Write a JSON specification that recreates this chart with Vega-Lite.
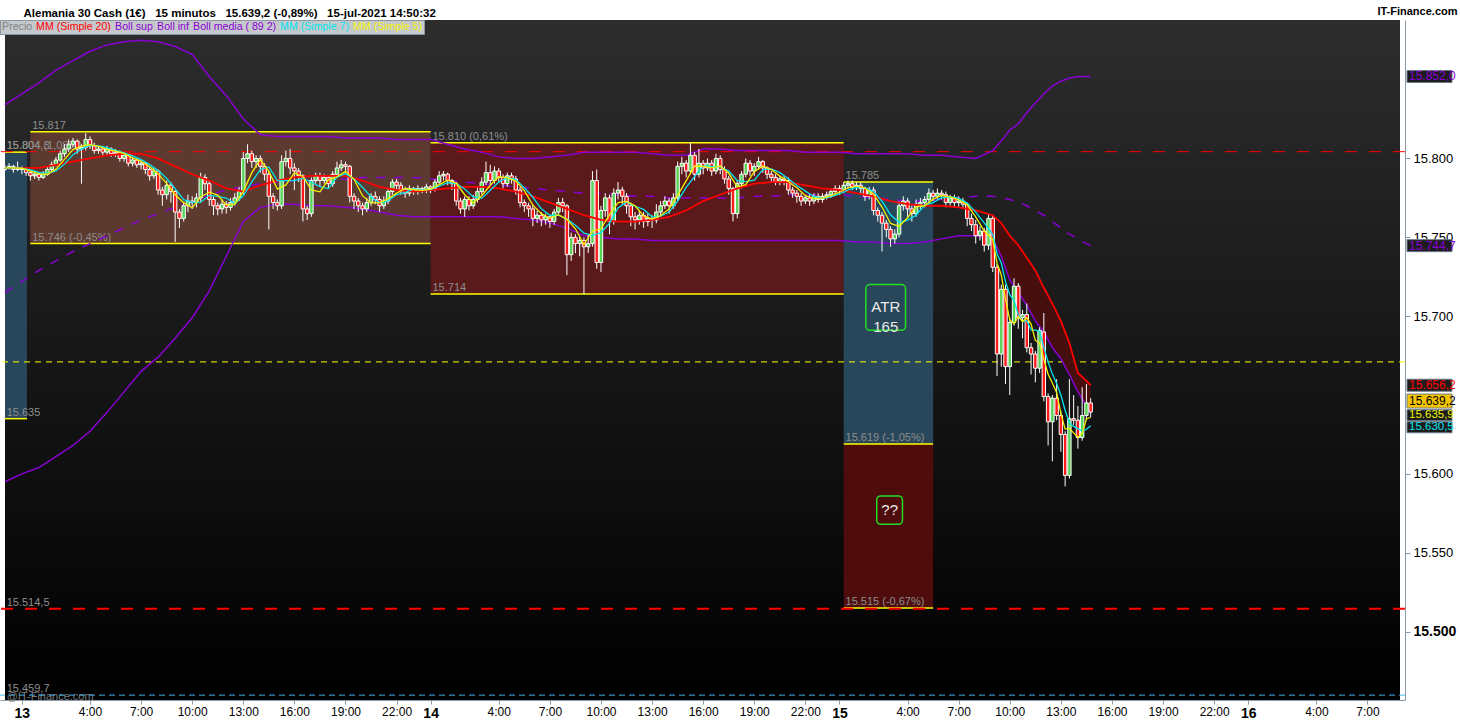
{
  "$schema": "https://vega.github.io/schema/vega-lite/v6.json",
  "width": 1405,
  "height": 680,
  "autosize": {"type": "none"},
  "padding": {"left": 0, "top": 20, "right": 55, "bottom": 20},
  "background": "#ffffff",
  "datasets": {
    "bg": [{"t0": -0.99, "t1": 80.91, "p0": 15456.6, "p1": 15887.8}],
    "boxes": [
      {"zona": "previo", "t0": -0.99, "t1": 0.3, "p0": 15635, "p1": 15804},
      {"zona": "rango13", "t0": 0.5, "t1": 24, "p0": 15746, "p1": 15817},
      {"zona": "rango14", "t0": 24, "t1": 48.25, "p0": 15714, "p1": 15810},
      {"zona": "atr", "t0": 48.25, "t1": 53.5, "p0": 15619, "p1": 15785},
      {"zona": "objetivo", "t0": 48.25, "t1": 53.5, "p0": 15515, "p1": 15619}
    ],
    "edges": [
      {"t0": -0.99, "t1": 0.3, "p": 15804}, {"t0": -0.99, "t1": 0.3, "p": 15635},
      {"t0": 0.5, "t1": 24, "p": 15817}, {"t0": 0.5, "t1": 24, "p": 15746},
      {"t0": 24, "t1": 48.25, "p": 15810}, {"t0": 24, "t1": 48.25, "p": 15714},
      {"t0": 48.25, "t1": 53.5, "p": 15785}, {"t0": 48.25, "t1": 53.5, "p": 15619},
      {"t0": 48.25, "t1": 53.5, "p": 15515}
    ],
    "labels": [
      {"t": 0.55, "p": 15817, "txt": "15.817"},
      {"t": 0.55, "p": 15746, "txt": "15.746 (-0,45%)"},
      {"t": -0.95, "p": 15804, "txt": "15.804 (1,08%)"},
      {"t": -0.95, "p": 15804.3, "txt": "15.804,3"},
      {"t": -0.95, "p": 15635, "txt": "15.635"},
      {"t": 24.05, "p": 15810, "txt": "15.810 (0,61%)"},
      {"t": 24.05, "p": 15714, "txt": "15.714"},
      {"t": 48.3, "p": 15785, "txt": "15.785"},
      {"t": 48.3, "p": 15619, "txt": "15.619 (-1,05%)"},
      {"t": 48.3, "p": 15515, "txt": "15.515 (-0,67%)"},
      {"t": -0.95, "p": 15514.5, "txt": "15.514,5"},
      {"t": -0.95, "p": 15459.7, "txt": "15.459,7"}
    ],
    "candles": [
      {"t":-1,"o":15793,"h":15796,"l":15792,"c":15794},{"t":-0.75,"o":15794,"h":15797,"l":15793,"c":15795},{"t":-0.5,"o":15795,"h":15796,"l":15791,"c":15793},{"t":-0.25,"o":15793,"h":15798,"l":15792,"c":15794},
      {"t":0,"o":15794,"h":15795,"l":15790,"c":15793},{"t":0.25,"o":15793,"h":15794,"l":15789,"c":15791},{"t":0.5,"o":15791,"h":15792,"l":15786,"c":15789},{"t":0.75,"o":15789,"h":15792,"l":15787,"c":15790},
      {"t":1,"o":15790,"h":15791,"l":15786,"c":15788},{"t":1.25,"o":15788,"h":15792,"l":15787,"c":15790},{"t":1.5,"o":15790,"h":15795,"l":15789,"c":15793},{"t":1.75,"o":15793,"h":15798,"l":15792,"c":15796},
      {"t":2,"o":15796,"h":15801,"l":15795,"c":15799},{"t":2.25,"o":15799,"h":15805,"l":15798,"c":15803},{"t":2.5,"o":15803,"h":15809,"l":15801,"c":15806},{"t":2.75,"o":15806,"h":15812,"l":15804,"c":15809},
      {"t":3,"o":15809,"h":15813,"l":15807,"c":15811},{"t":3.25,"o":15811,"h":15812,"l":15803,"c":15806},{"t":3.5,"o":15806,"h":15809,"l":15784,"c":15807},{"t":3.75,"o":15807,"h":15816,"l":15805,"c":15812},
      {"t":4,"o":15812,"h":15814,"l":15806,"c":15808},{"t":4.25,"o":15808,"h":15810,"l":15803,"c":15805},{"t":4.5,"o":15805,"h":15808,"l":15803,"c":15806},{"t":4.75,"o":15806,"h":15808,"l":15802,"c":15804},
      {"t":5,"o":15804,"h":15808,"l":15802,"c":15806},{"t":5.25,"o":15806,"h":15807,"l":15801,"c":15803},{"t":5.5,"o":15803,"h":15806,"l":15801,"c":15804},{"t":5.75,"o":15804,"h":15805,"l":15798,"c":15800},
      {"t":6,"o":15800,"h":15804,"l":15798,"c":15802},{"t":6.25,"o":15802,"h":15803,"l":15795,"c":15797},{"t":6.5,"o":15797,"h":15801,"l":15795,"c":15799},{"t":6.75,"o":15799,"h":15800,"l":15794,"c":15796},
      {"t":7,"o":15796,"h":15799,"l":15793,"c":15797},{"t":7.25,"o":15797,"h":15798,"l":15790,"c":15793},{"t":7.5,"o":15793,"h":15795,"l":15786,"c":15789},{"t":7.75,"o":15789,"h":15794,"l":15787,"c":15792},
      {"t":8,"o":15792,"h":15793,"l":15777,"c":15780},{"t":8.25,"o":15780,"h":15782,"l":15770,"c":15777},{"t":8.5,"o":15777,"h":15786,"l":15774,"c":15783},{"t":8.75,"o":15783,"h":15785,"l":15772,"c":15779},
      {"t":9,"o":15779,"h":15780,"l":15747,"c":15766},{"t":9.25,"o":15766,"h":15768,"l":15756,"c":15762},{"t":9.5,"o":15762,"h":15772,"l":15760,"c":15770},{"t":9.75,"o":15770,"h":15777,"l":15766,"c":15773},
      {"t":10,"o":15773,"h":15776,"l":15768,"c":15772},{"t":10.25,"o":15772,"h":15778,"l":15769,"c":15775},{"t":10.5,"o":15775,"h":15791,"l":15772,"c":15788},{"t":10.75,"o":15788,"h":15790,"l":15780,"c":15784},
      {"t":11,"o":15784,"h":15786,"l":15770,"c":15774},{"t":11.25,"o":15774,"h":15776,"l":15764,"c":15770},{"t":11.5,"o":15770,"h":15772,"l":15764,"c":15768},{"t":11.75,"o":15768,"h":15774,"l":15765,"c":15771},
      {"t":12,"o":15771,"h":15773,"l":15765,"c":15769},{"t":12.25,"o":15769,"h":15775,"l":15767,"c":15772},{"t":12.5,"o":15772,"h":15778,"l":15770,"c":15775},{"t":12.75,"o":15775,"h":15782,"l":15773,"c":15779},
      {"t":13,"o":15779,"h":15804,"l":15777,"c":15800},{"t":13.25,"o":15800,"h":15809,"l":15797,"c":15803},{"t":13.5,"o":15803,"h":15805,"l":15794,"c":15798},{"t":13.75,"o":15798,"h":15802,"l":15794,"c":15800},
      {"t":14,"o":15800,"h":15802,"l":15791,"c":15795},{"t":14.25,"o":15795,"h":15797,"l":15786,"c":15790},{"t":14.5,"o":15790,"h":15792,"l":15755,"c":15776},{"t":14.75,"o":15776,"h":15778,"l":15768,"c":15772},
      {"t":15,"o":15772,"h":15774,"l":15767,"c":15770},{"t":15.25,"o":15770,"h":15802,"l":15768,"c":15798},{"t":15.5,"o":15798,"h":15805,"l":15795,"c":15800},{"t":15.75,"o":15800,"h":15806,"l":15790,"c":15794},
      {"t":16,"o":15794,"h":15797,"l":15780,"c":15792},{"t":16.25,"o":15792,"h":15794,"l":15785,"c":15789},{"t":16.5,"o":15789,"h":15790,"l":15760,"c":15768},{"t":16.75,"o":15768,"h":15770,"l":15761,"c":15765},
      {"t":17,"o":15765,"h":15788,"l":15763,"c":15786},{"t":17.25,"o":15786,"h":15791,"l":15784,"c":15789},{"t":17.5,"o":15789,"h":15791,"l":15782,"c":15786},{"t":17.75,"o":15786,"h":15790,"l":15784,"c":15788},
      {"t":18,"o":15788,"h":15789,"l":15781,"c":15784},{"t":18.25,"o":15784,"h":15792,"l":15782,"c":15790},{"t":18.5,"o":15790,"h":15798,"l":15788,"c":15794},{"t":18.75,"o":15794,"h":15799,"l":15792,"c":15796},
      {"t":19,"o":15796,"h":15798,"l":15791,"c":15795},{"t":19.25,"o":15795,"h":15796,"l":15772,"c":15776},{"t":19.5,"o":15776,"h":15778,"l":15768,"c":15773},{"t":19.75,"o":15773,"h":15775,"l":15766,"c":15770},
      {"t":20,"o":15770,"h":15772,"l":15764,"c":15768},{"t":20.25,"o":15768,"h":15775,"l":15766,"c":15772},{"t":20.5,"o":15772,"h":15778,"l":15770,"c":15776},{"t":20.75,"o":15776,"h":15779,"l":15771,"c":15774},
      {"t":21,"o":15774,"h":15776,"l":15766,"c":15770},{"t":21.25,"o":15770,"h":15776,"l":15768,"c":15773},{"t":21.5,"o":15773,"h":15781,"l":15771,"c":15779},{"t":21.75,"o":15779,"h":15787,"l":15777,"c":15785},
      {"t":22,"o":15785,"h":15787,"l":15780,"c":15783},{"t":22.25,"o":15783,"h":15785,"l":15777,"c":15780},{"t":22.5,"o":15780,"h":15782,"l":15775,"c":15778},{"t":22.75,"o":15778,"h":15783,"l":15776,"c":15781},
      {"t":23,"o":15781,"h":15782,"l":15777,"c":15779},{"t":23.25,"o":15779,"h":15783,"l":15777,"c":15781},{"t":23.5,"o":15781,"h":15782,"l":15778,"c":15780},{"t":23.75,"o":15780,"h":15784,"l":15778,"c":15782},
      {"t":24,"o":15782,"h":15783,"l":15778,"c":15781},{"t":24.25,"o":15781,"h":15787,"l":15779,"c":15785},{"t":24.5,"o":15785,"h":15792,"l":15783,"c":15789},{"t":24.75,"o":15789,"h":15792,"l":15786,"c":15790},
      {"t":25,"o":15790,"h":15791,"l":15783,"c":15786},{"t":25.25,"o":15786,"h":15787,"l":15780,"c":15784},{"t":25.5,"o":15784,"h":15785,"l":15770,"c":15773},{"t":25.75,"o":15773,"h":15775,"l":15765,"c":15768},
      {"t":26,"o":15768,"h":15776,"l":15763,"c":15774},{"t":26.25,"o":15774,"h":15776,"l":15767,"c":15770},{"t":26.5,"o":15770,"h":15777,"l":15768,"c":15774},{"t":26.75,"o":15774,"h":15782,"l":15772,"c":15779},
      {"t":27,"o":15779,"h":15788,"l":15777,"c":15785},{"t":27.25,"o":15785,"h":15798,"l":15783,"c":15791},{"t":27.5,"o":15791,"h":15796,"l":15783,"c":15786},{"t":27.75,"o":15786,"h":15795,"l":15784,"c":15792},
      {"t":28,"o":15792,"h":15794,"l":15785,"c":15788},{"t":28.25,"o":15788,"h":15790,"l":15781,"c":15784},{"t":28.5,"o":15784,"h":15791,"l":15782,"c":15789},{"t":28.75,"o":15789,"h":15791,"l":15784,"c":15787},
      {"t":29,"o":15787,"h":15789,"l":15777,"c":15780},{"t":29.25,"o":15780,"h":15782,"l":15769,"c":15772},{"t":29.5,"o":15772,"h":15774,"l":15766,"c":15770},{"t":29.75,"o":15770,"h":15772,"l":15763,"c":15768},
      {"t":30,"o":15768,"h":15771,"l":15757,"c":15762},{"t":30.25,"o":15762,"h":15767,"l":15759,"c":15764},{"t":30.5,"o":15764,"h":15766,"l":15757,"c":15761},{"t":30.75,"o":15761,"h":15765,"l":15758,"c":15763},
      {"t":31,"o":15763,"h":15764,"l":15756,"c":15760},{"t":31.25,"o":15760,"h":15768,"l":15758,"c":15766},{"t":31.5,"o":15766,"h":15775,"l":15764,"c":15772},{"t":31.75,"o":15772,"h":15775,"l":15766,"c":15770},
      {"t":32,"o":15770,"h":15771,"l":15726,"c":15739},{"t":32.25,"o":15739,"h":15753,"l":15735,"c":15750},{"t":32.5,"o":15750,"h":15752,"l":15740,"c":15746},{"t":32.75,"o":15746,"h":15751,"l":15738,"c":15748},
      {"t":33,"o":15748,"h":15750,"l":15714,"c":15744},{"t":33.25,"o":15744,"h":15752,"l":15740,"c":15746},{"t":33.5,"o":15746,"h":15792,"l":15744,"c":15786},{"t":33.75,"o":15786,"h":15793,"l":15730,"c":15734},
      {"t":34,"o":15734,"h":15770,"l":15728,"c":15767},{"t":34.25,"o":15767,"h":15778,"l":15763,"c":15775},{"t":34.5,"o":15775,"h":15777,"l":15752,"c":15760},{"t":34.75,"o":15760,"h":15781,"l":15758,"c":15778},
      {"t":35,"o":15778,"h":15785,"l":15774,"c":15780},{"t":35.25,"o":15780,"h":15782,"l":15771,"c":15776},{"t":35.5,"o":15776,"h":15778,"l":15765,"c":15770},{"t":35.75,"o":15770,"h":15772,"l":15757,"c":15763},
      {"t":36,"o":15763,"h":15766,"l":15755,"c":15761},{"t":36.25,"o":15761,"h":15767,"l":15758,"c":15764},{"t":36.5,"o":15764,"h":15766,"l":15756,"c":15760},{"t":36.75,"o":15760,"h":15765,"l":15757,"c":15762},
      {"t":37,"o":15762,"h":15764,"l":15756,"c":15761},{"t":37.25,"o":15761,"h":15771,"l":15759,"c":15766},{"t":37.5,"o":15766,"h":15773,"l":15763,"c":15770},{"t":37.75,"o":15770,"h":15776,"l":15768,"c":15773},
      {"t":38,"o":15773,"h":15775,"l":15765,"c":15770},{"t":38.25,"o":15770,"h":15778,"l":15768,"c":15775},{"t":38.5,"o":15775,"h":15798,"l":15773,"c":15795},{"t":38.75,"o":15795,"h":15801,"l":15790,"c":15797},
      {"t":39,"o":15797,"h":15799,"l":15788,"c":15792},{"t":39.25,"o":15792,"h":15810,"l":15790,"c":15802},{"t":39.5,"o":15802,"h":15804,"l":15786,"c":15790},{"t":39.75,"o":15790,"h":15806,"l":15788,"c":15797},
      {"t":40,"o":15797,"h":15799,"l":15790,"c":15794},{"t":40.25,"o":15794,"h":15800,"l":15792,"c":15797},{"t":40.5,"o":15797,"h":15799,"l":15789,"c":15792},{"t":40.75,"o":15792,"h":15803,"l":15790,"c":15800},
      {"t":41,"o":15800,"h":15802,"l":15790,"c":15793},{"t":41.25,"o":15793,"h":15795,"l":15784,"c":15787},{"t":41.5,"o":15787,"h":15789,"l":15777,"c":15781},{"t":41.75,"o":15781,"h":15782,"l":15760,"c":15765},
      {"t":42,"o":15765,"h":15786,"l":15762,"c":15784},{"t":42.25,"o":15784,"h":15792,"l":15781,"c":15790},{"t":42.5,"o":15790,"h":15800,"l":15788,"c":15797},{"t":42.75,"o":15797,"h":15799,"l":15789,"c":15792},
      {"t":43,"o":15792,"h":15797,"l":15789,"c":15795},{"t":43.25,"o":15795,"h":15801,"l":15793,"c":15798},{"t":43.5,"o":15798,"h":15799,"l":15791,"c":15794},{"t":43.75,"o":15794,"h":15795,"l":15787,"c":15790},
      {"t":44,"o":15790,"h":15792,"l":15785,"c":15788},{"t":44.25,"o":15788,"h":15790,"l":15783,"c":15785},{"t":44.5,"o":15785,"h":15789,"l":15783,"c":15787},{"t":44.75,"o":15787,"h":15789,"l":15783,"c":15786},
      {"t":45,"o":15786,"h":15788,"l":15777,"c":15780},{"t":45.25,"o":15780,"h":15782,"l":15775,"c":15778},{"t":45.5,"o":15778,"h":15780,"l":15772,"c":15776},{"t":45.75,"o":15776,"h":15778,"l":15770,"c":15773},
      {"t":46,"o":15773,"h":15777,"l":15771,"c":15775},{"t":46.25,"o":15775,"h":15777,"l":15770,"c":15773},{"t":46.5,"o":15773,"h":15778,"l":15771,"c":15776},{"t":46.75,"o":15776,"h":15778,"l":15772,"c":15774},
      {"t":47,"o":15774,"h":15778,"l":15772,"c":15776},{"t":47.25,"o":15776,"h":15779,"l":15774,"c":15777},{"t":47.5,"o":15777,"h":15781,"l":15775,"c":15779},{"t":47.75,"o":15779,"h":15783,"l":15777,"c":15781},
      {"t":48,"o":15781,"h":15783,"l":15777,"c":15780},{"t":48.25,"o":15780,"h":15785,"l":15778,"c":15783},{"t":48.5,"o":15783,"h":15786,"l":15781,"c":15784},{"t":48.75,"o":15784,"h":15786,"l":15780,"c":15782},
      {"t":49,"o":15782,"h":15785,"l":15780,"c":15783},{"t":49.25,"o":15783,"h":15785,"l":15778,"c":15781},{"t":49.5,"o":15781,"h":15782,"l":15773,"c":15776},{"t":49.75,"o":15776,"h":15782,"l":15774,"c":15780},
      {"t":50,"o":15780,"h":15782,"l":15764,"c":15767},{"t":50.25,"o":15767,"h":15769,"l":15760,"c":15764},{"t":50.5,"o":15764,"h":15766,"l":15741,"c":15759},{"t":50.75,"o":15759,"h":15761,"l":15750,"c":15755},
      {"t":51,"o":15755,"h":15757,"l":15744,"c":15749},{"t":51.25,"o":15749,"h":15755,"l":15746,"c":15752},{"t":51.5,"o":15752,"h":15773,"l":15750,"c":15770},{"t":51.75,"o":15770,"h":15776,"l":15767,"c":15773},
      {"t":52,"o":15773,"h":15775,"l":15763,"c":15768},{"t":52.25,"o":15768,"h":15770,"l":15760,"c":15765},{"t":52.5,"o":15765,"h":15774,"l":15763,"c":15771},{"t":52.75,"o":15771,"h":15775,"l":15768,"c":15772},
      {"t":53,"o":15772,"h":15776,"l":15769,"c":15774},{"t":53.25,"o":15774,"h":15781,"l":15772,"c":15778},{"t":53.5,"o":15778,"h":15780,"l":15773,"c":15776},{"t":53.75,"o":15776,"h":15781,"l":15774,"c":15778},
      {"t":54,"o":15778,"h":15780,"l":15774,"c":15777},{"t":54.25,"o":15777,"h":15779,"l":15769,"c":15772},{"t":54.5,"o":15772,"h":15777,"l":15770,"c":15775},{"t":54.75,"o":15775,"h":15777,"l":15769,"c":15772},
      {"t":55,"o":15772,"h":15776,"l":15769,"c":15773},{"t":55.25,"o":15773,"h":15775,"l":15768,"c":15771},{"t":55.5,"o":15771,"h":15772,"l":15757,"c":15762},{"t":55.75,"o":15762,"h":15765,"l":15754,"c":15758},
      {"t":56,"o":15758,"h":15761,"l":15746,"c":15751},{"t":56.25,"o":15751,"h":15757,"l":15748,"c":15754},{"t":56.5,"o":15754,"h":15756,"l":15741,"c":15745},{"t":56.75,"o":15745,"h":15765,"l":15742,"c":15762},
      {"t":57,"o":15762,"h":15764,"l":15728,"c":15731},{"t":57.25,"o":15731,"h":15733,"l":15662,"c":15676},{"t":57.5,"o":15676,"h":15720,"l":15668,"c":15717},{"t":57.75,"o":15717,"h":15720,"l":15657,"c":15668},
      {"t":58,"o":15668,"h":15699,"l":15650,"c":15696},{"t":58.25,"o":15696,"h":15724,"l":15694,"c":15719},{"t":58.5,"o":15719,"h":15721,"l":15692,"c":15699},{"t":58.75,"o":15699,"h":15704,"l":15686,"c":15701},
      {"t":59,"o":15701,"h":15708,"l":15677,"c":15680},{"t":59.25,"o":15680,"h":15683,"l":15663,"c":15676},{"t":59.5,"o":15676,"h":15678,"l":15658,"c":15667},{"t":59.75,"o":15667,"h":15693,"l":15664,"c":15691},
      {"t":60,"o":15690,"h":15702,"l":15646,"c":15649},{"t":60.25,"o":15649,"h":15651,"l":15618,"c":15633},{"t":60.5,"o":15633,"h":15650,"l":15608,"c":15648},{"t":60.75,"o":15648,"h":15660,"l":15634,"c":15637},
      {"t":61,"o":15637,"h":15640,"l":15614,"c":15625},{"t":61.25,"o":15625,"h":15627,"l":15592,"c":15599},{"t":61.5,"o":15599,"h":15660,"l":15597,"c":15635},{"t":61.75,"o":15635,"h":15650,"l":15631,"c":15634},
      {"t":62,"o":15634,"h":15643,"l":15616,"c":15623},{"t":62.25,"o":15623,"h":15655,"l":15621,"c":15637},{"t":62.5,"o":15637,"h":15657,"l":15634,"c":15645},{"t":62.75,"o":15645,"h":15648,"l":15636,"c":15639.2}
    ],
    "fast": [
      {"t":-1,"m5":15794,"m7":15794},{"t":-0.5,"m5":15794,"m7":15794},{"t":0,"m5":15793.8,"m7":15793.9},{"t":0.5,"m5":15792,"m7":15792.7},
      {"t":1,"m5":15790.2,"m7":15791.1},{"t":1.5,"m5":15790,"m7":15790.6},{"t":2,"m5":15793.2,"m7":15792.1},{"t":2.5,"m5":15799.4,"m7":15796.4},
      {"t":3,"m5":15805.6,"m7":15802.4},{"t":3.5,"m5":15807.8,"m7":15805.9},{"t":4,"m5":15808.8,"m7":15808.4},{"t":4.5,"m5":15807.6,"m7":15807.9},
      {"t":5,"m5":15805.8,"m7":15806.9},{"t":5.5,"m5":15804.6,"m7":15805.1},{"t":6,"m5":15803,"m7":15803.6},{"t":6.5,"m5":15800.4,"m7":15801.6},
      {"t":7,"m5":15798.2,"m7":15799.3},{"t":7.5,"m5":15794.8,"m7":15796.1},{"t":8,"m5":15790.2,"m7":15792.3},{"t":8.5,"m5":15784.2,"m7":15787.3},
      {"t":9,"m5":15777,"m7":15780.9},{"t":9.5,"m5":15772,"m7":15773.9},{"t":10,"m5":15768.6,"m7":15772.1},{"t":10.5,"m5":15775.6,"m7":15772.3},
      {"t":11,"m5":15778.6,"m7":15776.6},{"t":11.5,"m5":15776.8,"m7":15775.9},{"t":12,"m5":15770.4,"m7":15774.9},{"t":12.5,"m5":15771,"m7":15771.3},
      {"t":13,"m5":15779,"m7":15776.3},{"t":13.5,"m5":15791,"m7":15785.1},{"t":14,"m5":15799.2,"m7":15792.9},{"t":14.5,"m5":15791.8,"m7":15794.6},
      {"t":15,"m5":15780.6,"m7":15785.9},{"t":15.5,"m5":15783.2,"m7":15785.9},{"t":16,"m5":15790.8,"m7":15786},{"t":16.5,"m5":15788.6,"m7":15787.3},
      {"t":17,"m5":15780,"m7":15784.9},{"t":17.5,"m5":15778.8,"m7":15782.1},{"t":18,"m5":15786.6,"m7":15780.9},{"t":18.5,"m5":15788.4,"m7":15788.1},
      {"t":19,"m5":15791.8,"m7":15790.4},{"t":19.5,"m5":15786.8,"m7":15786.9},{"t":20,"m5":15776.4,"m7":15781.7},{"t":20.5,"m5":15771.8,"m7":15775.7},
      {"t":21,"m5":15772,"m7":15771.9},{"t":21.5,"m5":15774.4,"m7":15773.1},{"t":22,"m5":15778,"m7":15777.1},{"t":22.5,"m5":15781,"m7":15778.3},
      {"t":23,"m5":15780.2,"m7":15780.7},{"t":23.5,"m5":15779.8,"m7":15780.3},{"t":24,"m5":15780.6,"m7":15780.3},{"t":24.5,"m5":15783.4,"m7":15782.4},
      {"t":25,"m5":15786.2,"m7":15784.7},{"t":25.5,"m5":15784.4,"m7":15784},{"t":26,"m5":15777,"m7":15780.6},{"t":26.5,"m5":15771.8,"m7":15775.6},
      {"t":27,"m5":15776.4,"m7":15774.7},{"t":27.5,"m5":15783,"m7":15779.9},{"t":28,"m5":15788.4,"m7":15785},{"t":28.5,"m5":15787.8,"m7":15787.9},
      {"t":29,"m5":15785.6,"m7":15786.6},{"t":29.5,"m5":15779.6,"m7":15781.4},{"t":30,"m5":15770.4,"m7":15775.4},{"t":30.5,"m5":15765,"m7":15768.1},
      {"t":31,"m5":15762,"m7":15764},{"t":31.5,"m5":15764.4,"m7":15764},{"t":32,"m5":15761.4,"m7":15761.6},{"t":32.5,"m5":15755.4,"m7":15757.6},
      {"t":33,"m5":15745.4,"m7":15752.7},{"t":33.5,"m5":15754,"m7":15751.3},{"t":34,"m5":15755.4,"m7":15753},{"t":34.5,"m5":15764.4,"m7":15758.9},
      {"t":35,"m5":15772,"m7":15768.6},{"t":35.5,"m5":15772.8,"m7":15772.3},{"t":36,"m5":15770,"m7":15769.7},{"t":36.5,"m5":15763.6,"m7":15767.7},
      {"t":37,"m5":15761.6,"m7":15763},{"t":37.5,"m5":15763.8,"m7":15763.4},{"t":38,"m5":15768,"m7":15766},{"t":38.5,"m5":15776.6,"m7":15772.9},
      {"t":39,"m5":15785.8,"m7":15781.7},{"t":39.5,"m5":15795.2,"m7":15788.7},{"t":40,"m5":15795,"m7":15795.3},{"t":40.5,"m5":15794,"m7":15794.9},
      {"t":41,"m5":15795.2,"m7":15794.7},{"t":41.5,"m5":15790.6,"m7":15792},{"t":42,"m5":15782,"m7":15786},{"t":42.5,"m5":15783.4,"m7":15785.3},
      {"t":43,"m5":15791.6,"m7":15786.3},{"t":43.5,"m5":15795.2,"m7":15792.9},{"t":44,"m5":15793,"m7":15793.4},{"t":44.5,"m5":15788.8,"m7":15791},
      {"t":45,"m5":15785.2,"m7":15787.1},{"t":45.5,"m5":15781.4,"m7":15782.9},{"t":46,"m5":15776.4,"m7":15779.3},{"t":46.5,"m5":15774.6,"m7":15775.9},
      {"t":47,"m5":15774.8,"m7":15774.7},{"t":47.5,"m5":15776.4,"m7":15775.7},{"t":48,"m5":15778.6,"m7":15777.6},{"t":48.5,"m5":15781.4,"m7":15780},
      {"t":49,"m5":15782.4,"m7":15781.7},{"t":49.5,"m5":15781.2,"m7":15781.3},{"t":50,"m5":15777.4,"m7":15779},{"t":50.5,"m5":15769.2,"m7":15772.9},
      {"t":51,"m5":15758.8,"m7":15764.3},{"t":51.5,"m5":15757,"m7":15759.4},{"t":52,"m5":15762.4,"m7":15760.9},{"t":52.5,"m5":15769.4,"m7":15764},
      {"t":53,"m5":15770,"m7":15770.4},{"t":53.5,"m5":15774.2,"m7":15772},{"t":54,"m5":15776.6,"m7":15775.1},{"t":54.5,"m5":15775.6,"m7":15775.7},
      {"t":55,"m5":15773.8,"m7":15774.7},{"t":55.5,"m5":15770.6,"m7":15771.7},{"t":56,"m5":15763,"m7":15766},{"t":56.5,"m5":15754,"m7":15759.1},
      {"t":57,"m5":15748.6,"m7":15751.9},{"t":57.25,"m5":15733.6,"m7":15739.6},{"t":57.5,"m5":15726.2,"m7":15733.7},{"t":57.75,"m5":15710.8,"m7":15721.9},
      {"t":58,"m5":15697.6,"m7":15713.6},{"t":58.25,"m5":15695.2,"m7":15709.9},{"t":58.5,"m5":15699.8,"m7":15700.9},{"t":58.75,"m5":15696.6,"m7":15696.6},
      {"t":59,"m5":15699,"m7":15697.1},{"t":59.25,"m5":15695,"m7":15691.3},{"t":59.5,"m5":15684.6,"m7":15691.1},{"t":59.75,"m5":15683,"m7":15690.4},
      {"t":60,"m5":15672.6,"m7":15680.4},{"t":60.25,"m5":15663.2,"m7":15671},{"t":60.5,"m5":15657.6,"m7":15663.4},{"t":60.75,"m5":15651.6,"m7":15657.3},
      {"t":61,"m5":15638.4,"m7":15650},{"t":61.25,"m5":15628.4,"m7":15640.3},{"t":61.5,"m5":15628.8,"m7":15632.3},{"t":61.75,"m5":15626,"m7":15630.1},
      {"t":62,"m5":15623.2,"m7":15628.7},{"t":62.25,"m5":15625.6,"m7":15627.1},{"t":62.5,"m5":15634.8,"m7":15628.3},{"t":62.75,"m5":15635.9,"m7":15630.5}
    ],
    "slow": [
      {"t":-1,"m20":15794,"bu":15834,"bm":15715,"bl":15595},{"t":0,"m20":15794,"bu":15841,"bm":15722,"bl":15600},
      {"t":1,"m20":15794,"bu":15848,"bm":15729,"bl":15604},{"t":2,"m20":15796,"bu":15856,"bm":15735,"bl":15611},
      {"t":3,"m20":15798,"bu":15862,"bm":15741,"bl":15618},{"t":4,"m20":15800,"bu":15868,"bm":15746,"bl":15627},
      {"t":5,"m20":15802,"bu":15872,"bm":15751,"bl":15639},{"t":6,"m20":15803,"bu":15874,"bm":15756,"bl":15652},
      {"t":7,"m20":15803,"bu":15875,"bm":15761,"bl":15665},{"t":8,"m20":15800,"bu":15874,"bm":15765,"bl":15674},
      {"t":9,"m20":15795,"bu":15871,"bm":15769,"bl":15686},{"t":10,"m20":15790,"bu":15866,"bm":15773,"bl":15699},
      {"t":11,"m20":15786,"bu":15852,"bm":15777,"bl":15716},{"t":12,"m20":15781,"bu":15840,"bm":15780,"bl":15738},
      {"t":13,"m20":15779,"bu":15825,"bm":15782,"bl":15760},{"t":14,"m20":15783,"bu":15815,"bm":15784,"bl":15769},
      {"t":15,"m20":15786,"bu":15814,"bm":15785,"bl":15771},{"t":16,"m20":15788,"bu":15814,"bm":15786,"bl":15771},
      {"t":17,"m20":15789,"bu":15814,"bm":15786,"bl":15770},{"t":18,"m20":15789,"bu":15814,"bm":15787,"bl":15770},
      {"t":19,"m20":15789,"bu":15813,"bm":15787,"bl":15769},{"t":20,"m20":15786,"bu":15813,"bm":15788,"bl":15768},
      {"t":21,"m20":15782,"bu":15813,"bm":15788,"bl":15766},{"t":22,"m20":15780,"bu":15812,"bm":15788,"bl":15764},
      {"t":23,"m20":15779,"bu":15812,"bm":15788,"bl":15763},{"t":24,"m20":15780,"bu":15812,"bm":15787,"bl":15763},
      {"t":25,"m20":15781,"bu":15809,"bm":15786,"bl":15763},{"t":26,"m20":15782,"bu":15806,"bm":15785,"bl":15763},
      {"t":27,"m20":15782,"bu":15804,"bm":15784,"bl":15763},{"t":28,"m20":15781,"bu":15801,"bm":15783,"bl":15763},
      {"t":29,"m20":15779,"bu":15800,"bm":15782,"bl":15762},{"t":30,"m20":15776,"bu":15800,"bm":15781,"bl":15761},
      {"t":31,"m20":15772,"bu":15801,"bm":15780,"bl":15759},{"t":32,"m20":15768,"bu":15802,"bm":15779,"bl":15756},
      {"t":33,"m20":15764,"bu":15804,"bm":15778,"bl":15751},{"t":34,"m20":15761,"bu":15804,"bm":15778,"bl":15750},
      {"t":35,"m20":15760,"bu":15804,"bm":15777,"bl":15749},{"t":36,"m20":15760,"bu":15804,"bm":15776,"bl":15749},
      {"t":37,"m20":15761,"bu":15803,"bm":15776,"bl":15748},{"t":38,"m20":15763,"bu":15802,"bm":15775,"bl":15748},
      {"t":39,"m20":15767,"bu":15802,"bm":15775,"bl":15748},{"t":40,"m20":15773,"bu":15806,"bm":15775,"bl":15748},
      {"t":41,"m20":15777,"bu":15806,"bm":15775,"bl":15748},{"t":42,"m20":15781,"bu":15805,"bm":15775,"bl":15748},
      {"t":43,"m20":15784,"bu":15805,"bm":15776,"bl":15748},{"t":44,"m20":15785,"bu":15805,"bm":15776,"bl":15748},
      {"t":45,"m20":15785,"bu":15805,"bm":15777,"bl":15748},{"t":46,"m20":15783,"bu":15804,"bm":15777,"bl":15748},
      {"t":47,"m20":15781,"bu":15804,"bm":15777,"bl":15748},{"t":48,"m20":15780,"bu":15804,"bm":15777,"bl":15748},
      {"t":49,"m20":15778,"bu":15803,"bm":15776,"bl":15747},{"t":50,"m20":15776,"bu":15803,"bm":15775,"bl":15747},
      {"t":51,"m20":15773,"bu":15803,"bm":15774,"bl":15746},{"t":52,"m20":15771,"bu":15803,"bm":15773,"bl":15746},
      {"t":53,"m20":15770,"bu":15802,"bm":15773,"bl":15747},{"t":54,"m20":15770,"bu":15802,"bm":15774,"bl":15749},
      {"t":55,"m20":15769,"bu":15801,"bm":15775,"bl":15751},{"t":56,"m20":15767,"bu":15800,"bm":15776,"bl":15751},
      {"t":57,"m20":15764,"bu":15805,"bm":15776,"bl":15749},{"t":57.5,"m20":15759,"bu":15811,"bm":15775,"bl":15738},
      {"t":58,"m20":15751,"bu":15818,"bm":15774,"bl":15723},{"t":58.5,"m20":15745,"bu":15822,"bm":15772,"bl":15715},
      {"t":59,"m20":15737,"bu":15829,"bm":15770,"bl":15707},{"t":59.5,"m20":15729,"bu":15835,"bm":15767,"bl":15697},
      {"t":60,"m20":15718,"bu":15841,"bm":15764,"bl":15690},{"t":60.5,"m20":15708,"bu":15846,"bm":15760,"bl":15680},
      {"t":61,"m20":15697,"bu":15849,"bm":15756,"bl":15673},{"t":61.5,"m20":15683,"bu":15851,"bm":15752,"bl":15663},
      {"t":62,"m20":15664,"bu":15852,"bm":15749,"bl":15652},{"t":62.5,"m20":15659,"bu":15852,"bm":15746,"bl":15643},
      {"t":62.75,"m20":15656.2,"bu":15852,"bm":15744.7,"bl":15638}
    ],
    "tags": [
      {"serie": "Boll sup", "v": 15852.0, "txt": "15.852,0"},
      {"serie": "Boll media ( 89 2)", "v": 15744.7, "txt": "15.744,7"},
      {"serie": "MM (Simple 20)", "v": 15656.2, "txt": "15.656,2"},
      {"serie": "MM (Simple 5)", "v": 15635.9, "txt": "15.635,9"},
      {"serie": "MM (Simple 7)", "v": 15630.5, "txt": "15.630,5"}
    ],
    "price": [{"v": 15639.2, "txt": "15.639,2"}],
    "notes": [
      {"t0": 49.55, "t1": 51.88, "p0": 15691, "p1": 15720, "tc": 50.72, "pc": 15706, "txt": "ATR\n165"},
      {"t0": 50.19, "t1": 51.7, "p0": 15568, "p1": 15586, "tc": 50.95, "pc": 15577, "txt": "??"}
    ]
  },
  "layer": [
    {
      "data": {"name": "bg"},
      "mark": {"type": "rect", "color": {"gradient": "linear", "x1": 0, "y1": 0, "x2": 0, "y2": 1, "stops": [{"offset": 0, "color": "#2d2d2d"}, {"offset": 1, "color": "#000000"}]}},
      "encoding": {
        "x": {"field": "t0", "type": "quantitative",
          "scale": {"domain": [-0.99, 80.91], "nice": false, "zero": false},
          "axis": {"orient": "bottom", "grid": false,
            "title": "Alemania 30 Cash (1€)\u00a0\u00a0\u00a015 minutos\u00a0\u00a0\u00a015.639,2 (-0,89%)\u00a0\u00a0\u00a015-jul-2021 14:50:32",
            "titleX": 23, "titleY": -684, "titleAlign": "left", "titleAngle": 0, "titleBaseline": "alphabetic",
            "titleFontSize": 11.5, "titleFontWeight": "bold", "titleColor": "#000000", "titleFont": "Liberation Sans",
            "values": [0,4,7,10,13,16,19,22,24,28,31,34,37,40,43,46,48,52,55,58,61,64,67,70,72,76,79],
            "labelExpr": "datum.value % 24 == 0 ? '' + (13 + datum.value / 24) : (datum.value % 24) + ':00'",
            "labelFontWeight": {"condition": {"test": "datum.value % 24 == 0", "value": "bold"}, "value": "normal"},
            "labelFontSize": {"condition": {"test": "datum.value % 24 == 0", "value": 14}, "value": 12},
            "labelFont": "Liberation Sans Narrow, Liberation Sans, sans-serif",
            "labelColor": "#000000", "labelPadding": 2, "labelOverlap": false, "labelFlush": false,
            "tickColor": "#8a9aa8", "tickSize": 4, "domainColor": "#8a9aa8"}},
        "x2": {"field": "t1"},
        "y": {"field": "p0", "type": "quantitative",
          "scale": {"domain": [15456.6, 15887.8], "nice": false, "zero": false},
          "axis": {"orient": "right", "title": "IT-Finance.com", "titleAngle": 0, "titleX": 52, "titleY": -6,
            "titleAlign": "right", "titleBaseline": "alphabetic", "titleFontSize": 11, "titleFontWeight": "bold",
            "titleColor": "#000000", "titleFont": "Liberation Sans", "grid": false,
            "values": [15500, 15550, 15600, 15700, 15750, 15800],
            "labelExpr": "replace(format(datum.value, ','), ',', '.')",
            "labelFontWeight": {"condition": {"test": "datum.value == 15500", "value": "bold"}, "value": "normal"},
            "labelFontSize": {"condition": {"test": "datum.value == 15500", "value": 14}, "value": 13},
            "labelFont": "Liberation Sans", "labelColor": "#000000", "labelPadding": 3,
            "tickColor": "#8a9aa8", "tickSize": 5, "domainColor": "#8a9aa8"}},
        "y2": {"field": "p1"}
      }
    },
    {
      "data": {"name": "boxes"},
      "mark": {"type": "rect"},
      "encoding": {
        "x": {"field": "t0", "type": "quantitative"},
        "x2": {"field": "t1"},
        "y": {"field": "p0", "type": "quantitative"},
        "y2": {"field": "p1"},
        "fill": {"field": "zona", "type": "nominal", "legend": null,
          "scale": {"domain": ["previo", "rango13", "rango14", "atr", "objetivo"], "range": ["#29475a", "#5c3a2f", "#5a1a1b", "#29475a", "#4f0c0c"]}}
      }
    },
    {
      "data": {"name": "edges"},
      "mark": {"type": "rule", "color": "#ffff00", "strokeWidth": 1.5},
      "encoding": {
        "x": {"field": "t0", "type": "quantitative"},
        "x2": {"field": "t1"},
        "y": {"field": "p", "type": "quantitative"}
      }
    },
    {
      "data": {"name": "labels"},
      "mark": {"type": "text", "align": "left", "baseline": "bottom", "dx": 1, "dy": -1, "fontSize": 11, "color": "#8e8e8e", "font": "Liberation Sans"},
      "encoding": {
        "x": {"field": "t", "type": "quantitative"},
        "y": {"field": "p", "type": "quantitative"},
        "text": {"field": "txt"}
      }
    },
    {
      "data": {"values": [{"p": 15459.7, "txt": "@IT-Finance.com"}]},
      "mark": {"type": "text", "align": "left", "baseline": "top", "dx": 1, "dy": -4, "fontSize": 11, "color": "#7a7a7a", "font": "Liberation Sans"},
      "encoding": {
        "x": {"datum": -0.95, "type": "quantitative"},
        "y": {"field": "p", "type": "quantitative"},
        "text": {"field": "txt"}
      }
    },
    {
      "data": {"values": [{"p": 15804.3}]},
      "mark": {"type": "rule", "color": "#ff0000", "strokeWidth": 1, "strokeDash": [12, 12]},
      "encoding": {"y": {"field": "p", "type": "quantitative"}}
    },
    {
      "data": {"values": [{"p": 15671}]},
      "mark": {"type": "rule", "color": "#ffff00", "strokeWidth": 1, "strokeDash": [6, 5]},
      "encoding": {"y": {"field": "p", "type": "quantitative"}}
    },
    {
      "data": {"values": [{"p": 15514.5}]},
      "mark": {"type": "rule", "color": "#ff0000", "strokeWidth": 2, "strokeDash": [12, 12]},
      "encoding": {"y": {"field": "p", "type": "quantitative"}}
    },
    {
      "data": {"values": [{"p": 15459.7}]},
      "mark": {"type": "rule", "color": "#4ab4f0", "strokeWidth": 1, "strokeDash": [6, 4]},
      "encoding": {"y": {"field": "p", "type": "quantitative"}}
    },
    {
      "data": {"name": "slow"},
      "transform": [{"filter": "datum.t >= 56.5"}],
      "mark": {"type": "area", "color": "#4a0e0e", "opacity": 0.95},
      "encoding": {
        "x": {"field": "t", "type": "quantitative"},
        "y": {"field": "bl", "type": "quantitative"},
        "y2": {"field": "m20"}
      }
    },
    {
      "data": {"name": "slow"},
      "mark": {"type": "line", "strokeWidth": 1.5},
      "encoding": {
        "x": {"field": "t", "type": "quantitative"},
        "y": {"field": "bu", "type": "quantitative"},
        "color": {"datum": "Boll sup", "type": "nominal", "title": null,
          "scale": {"domain": ["Precio", "MM (Simple 20)", "Boll sup", "Boll inf", "Boll media ( 89 2)", "MM (Simple 7)", "MM (Simple 5)"],
            "range": ["#808080", "#ff0000", "#8a00d4", "#8a00d4", "#8a00d4", "#00e5f0", "#f2f200"]},
          "legend": {"orient": "none", "legendX": 0, "legendY": 0, "direction": "horizontal", "title": null,
            "symbolSize": 0, "symbolStrokeWidth": 0, "symbolOpacity": 0, "labelOffset": -10, "columnPadding": 3,
            "padding": 1.5, "fillColor": "#c6c9cc", "strokeColor": "#8c96a0",
            "labelFont": "Liberation Sans", "labelFontSize": 10.6, "labelLimit": 300,
            "labelColor": {"expr": "scale('color', datum.value)"}}}
      }
    },
    {
      "data": {"name": "slow"},
      "mark": {"type": "line", "strokeWidth": 1.5},
      "encoding": {
        "x": {"field": "t", "type": "quantitative"},
        "y": {"field": "bl", "type": "quantitative"},
        "color": {"datum": "Boll inf", "type": "nominal", "title": null}
      }
    },
    {
      "data": {"name": "slow"},
      "mark": {"type": "line", "strokeWidth": 1.5, "strokeDash": [9, 9]},
      "encoding": {
        "x": {"field": "t", "type": "quantitative"},
        "y": {"field": "bm", "type": "quantitative"},
        "color": {"datum": "Boll media ( 89 2)", "type": "nominal", "title": null}
      }
    },
    {
      "data": {"name": "candles"},
      "mark": {"type": "rule", "color": "#ffffff", "strokeWidth": 1},
      "encoding": {
        "x": {"field": "t", "type": "quantitative"},
        "y": {"field": "l", "type": "quantitative"},
        "y2": {"field": "h"}
      }
    },
    {
      "data": {"name": "candles"},
      "mark": {"type": "bar", "width": 3.4, "stroke": "#ffffff", "strokeWidth": 1},
      "encoding": {
        "x": {"field": "t", "type": "quantitative"},
        "y": {"field": "o", "type": "quantitative"},
        "y2": {"field": "c"},
        "fill": {"condition": {"test": "datum.c >= datum.o", "value": "#55d455"}, "value": "#ff1a1a"}
      }
    },
    {
      "data": {"name": "slow"},
      "mark": {"type": "line", "strokeWidth": 1.8},
      "encoding": {
        "x": {"field": "t", "type": "quantitative"},
        "y": {"field": "m20", "type": "quantitative"},
        "color": {"datum": "MM (Simple 20)", "type": "nominal", "title": null}
      }
    },
    {
      "data": {"name": "fast"},
      "mark": {"type": "line", "strokeWidth": 1.3},
      "encoding": {
        "x": {"field": "t", "type": "quantitative"},
        "y": {"field": "m7", "type": "quantitative"},
        "color": {"datum": "MM (Simple 7)", "type": "nominal", "title": null}
      }
    },
    {
      "data": {"name": "fast"},
      "mark": {"type": "line", "strokeWidth": 1.3},
      "encoding": {
        "x": {"field": "t", "type": "quantitative"},
        "y": {"field": "m5", "type": "quantitative"},
        "color": {"datum": "MM (Simple 5)", "type": "nominal", "title": null}
      }
    },
    {
      "data": {"name": "notes"},
      "mark": {"type": "rect", "fill": "transparent", "stroke": "#22dd22", "strokeWidth": 1.5, "cornerRadius": 4},
      "encoding": {
        "x": {"field": "t0", "type": "quantitative"},
        "x2": {"field": "t1"},
        "y": {"field": "p0", "type": "quantitative"},
        "y2": {"field": "p1"}
      }
    },
    {
      "data": {"name": "notes"},
      "mark": {"type": "text", "align": "center", "baseline": "middle", "fontSize": 15, "lineBreak": "\n", "lineHeight": 20, "color": "#e8e8e8", "font": "Liberation Sans"},
      "encoding": {
        "x": {"field": "tc", "type": "quantitative"},
        "y": {"field": "pc", "type": "quantitative"},
        "text": {"field": "txt"}
      }
    },
    {
      "data": {"name": "tags"},
      "transform": [{"filter": "datum.serie != 'MM (Simple 5)' && datum.serie != 'MM (Simple 7)'"}],
      "mark": {"type": "rect", "fill": "#1c1c1c", "stroke": "#6b7b8a", "strokeWidth": 1, "xOffset": 7, "x2Offset": 52, "yOffset": -6, "y2Offset": 6},
      "encoding": {
        "x": {"datum": 80.91, "type": "quantitative"},
        "x2": {"datum": 80.91},
        "y": {"field": "v", "type": "quantitative"},
        "y2": {"field": "v"}
      }
    },
    {
      "data": {"name": "tags"},
      "transform": [{"filter": "datum.serie == 'MM (Simple 5)'"}],
      "mark": {"type": "rect", "fill": "#1c1c1c", "stroke": "#6b7b8a", "strokeWidth": 1, "xOffset": 7, "x2Offset": 52, "yOffset": -7.5, "y2Offset": 3.5},
      "encoding": {
        "x": {"datum": 80.91, "type": "quantitative"},
        "x2": {"datum": 80.91},
        "y": {"field": "v", "type": "quantitative"},
        "y2": {"field": "v"}
      }
    },
    {
      "data": {"name": "tags"},
      "transform": [{"filter": "datum.serie == 'MM (Simple 7)'"}],
      "mark": {"type": "rect", "fill": "#1c1c1c", "stroke": "#6b7b8a", "strokeWidth": 1, "xOffset": 7, "x2Offset": 52, "yOffset": -4, "y2Offset": 7},
      "encoding": {
        "x": {"datum": 80.91, "type": "quantitative"},
        "x2": {"datum": 80.91},
        "y": {"field": "v", "type": "quantitative"},
        "y2": {"field": "v"}
      }
    },
    {
      "data": {"name": "tags"},
      "transform": [{"filter": "datum.serie != 'MM (Simple 5)' && datum.serie != 'MM (Simple 7)'"}],
      "mark": {"type": "text", "align": "left", "baseline": "middle", "dx": 9, "fontSize": 12, "font": "Liberation Sans"},
      "encoding": {
        "x": {"datum": 80.91, "type": "quantitative"},
        "y": {"field": "v", "type": "quantitative"},
        "text": {"field": "txt"},
        "color": {"field": "serie", "type": "nominal", "title": null}
      }
    },
    {
      "data": {"name": "tags"},
      "transform": [{"filter": "datum.serie == 'MM (Simple 5)'"}],
      "mark": {"type": "text", "align": "left", "baseline": "middle", "dx": 9, "dy": -2, "fontSize": 11.5, "font": "Liberation Sans"},
      "encoding": {
        "x": {"datum": 80.91, "type": "quantitative"},
        "y": {"field": "v", "type": "quantitative"},
        "text": {"field": "txt"},
        "color": {"field": "serie", "type": "nominal", "title": null}
      }
    },
    {
      "data": {"name": "tags"},
      "transform": [{"filter": "datum.serie == 'MM (Simple 7)'"}],
      "mark": {"type": "text", "align": "left", "baseline": "middle", "dx": 9, "dy": 1.5, "fontSize": 11.5, "font": "Liberation Sans"},
      "encoding": {
        "x": {"datum": 80.91, "type": "quantitative"},
        "y": {"field": "v", "type": "quantitative"},
        "text": {"field": "txt"},
        "color": {"field": "serie", "type": "nominal", "title": null}
      }
    },
    {
      "data": {"name": "price"},
      "mark": {"type": "rect", "fill": "#f5c400", "stroke": "#6b7b8a", "strokeWidth": 1, "xOffset": 7, "x2Offset": 52, "yOffset": -18, "y2Offset": -4},
      "encoding": {
        "x": {"datum": 80.91, "type": "quantitative"},
        "x2": {"datum": 80.91},
        "y": {"field": "v", "type": "quantitative"},
        "y2": {"field": "v"}
      }
    },
    {
      "data": {"name": "price"},
      "mark": {"type": "text", "align": "left", "baseline": "middle", "dx": 9, "dy": -11, "fontSize": 12, "color": "#000000", "font": "Liberation Sans"},
      "encoding": {
        "x": {"datum": 80.91, "type": "quantitative"},
        "y": {"field": "v", "type": "quantitative"},
        "text": {"field": "txt"}
      }
    }
  ],
  "config": {
    "view": {"stroke": null},
    "font": "Liberation Sans"
  }
}
